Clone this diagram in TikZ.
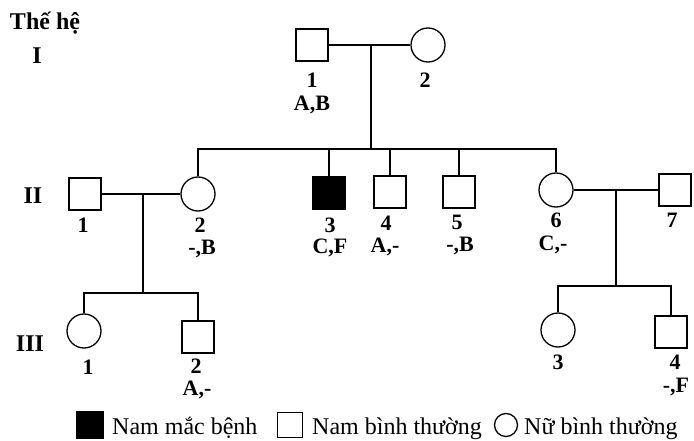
\documentclass[tikz,border=0pt]{standalone}
\usepackage{fontspec}
\setmainfont{Liberation Serif}
\begin{document}
\begin{tikzpicture}[x=1pt,y=-1pt,
  male/.style={draw,line width=1.3pt,rectangle,minimum size=32pt,inner sep=0pt,fill=white},
  female/.style={draw,line width=1.3pt,circle,minimum size=34pt,inner sep=0pt,fill=white},
  affected/.style={male,fill=black},
  lab/.style={inner sep=0pt,font=\fontsize{22}{22}\selectfont\bfseries,text height=14.5pt,text depth=0pt},
  gen/.style={inner sep=0pt,font=\fontsize{24}{24}\selectfont\bfseries,text height=16pt,text depth=0pt},
  leg/.style={inner sep=0pt,anchor=base west,font=\fontsize{24}{24}\selectfont},
  link/.style={line width=2pt}]
\useasboundingbox (0,0) rectangle (694,441);
% generation labels
\node[gen] (the) at (45,22) {Thế hệ};
\node[gen] (g1) at (37,56) {I};
\node[gen] (g2) at (33,196) {II};
\node[gen] (g3) at (30,343) {III};
% generation I
\node[male] (I1) at (312,45) {};
\node[female] (I2) at (428,45) {};
\coordinate (m1) at (371,45);
\coordinate (s1) at (371,149);
\draw[link] (I1) -- (I2);
\draw[link] (m1) -- (s1);
\node[lab] (I1n) at (312,80) {1};
\node[lab] (I1g) at (312,103) {A,B};
\node[lab] (I2n) at (425,80) {2};
% generation II
\node[male] (II1) at (85,194) {};
\node[female] (II2) at (198,194) {};
\node[affected] (II3) at (329,193) {};
\node[male] (II4) at (390,192) {};
\node[male] (II5) at (459,192) {};
\node[female] (II6) at (556,190) {};
\node[male] (II7) at (675,190) {};
\draw[link] (II2.north) |- (s1) -| (II6.north);
\draw[link] (II3.north) -- (II3.north |- s1);
\draw[link] (II4.north) -- (II4.north |- s1);
\draw[link] (II5.north) -- (II5.north |- s1);
\draw[link] (II1) -- (II2);
\draw[link] (II6) -- (II7);
\coordinate (m2) at (143,194);
\coordinate (s2) at (143,293);
\coordinate (m3) at (616,190);
\coordinate (s3) at (616,286);
\draw[link] (m2) -- (s2);
\draw[link] (m3) -- (s3);
\node[lab] (II1n) at (83,225) {1};
\node[lab] (II2n) at (200,225) {2};
\node[lab] (II2g) at (202,247) {-,B};
\node[lab] (II3n) at (330,225) {3};
\node[lab] (II3g) at (330,246) {C,F};
\node[lab] (II4n) at (386,223) {4};
\node[lab] (II4g) at (385,245) {A,-};
\node[lab] (II5n) at (457,222) {5};
\node[lab] (II5g) at (460,244) {-,B};
\node[lab] (II6n) at (556,220) {6};
\node[lab] (II6g) at (553,243) {C,-};
\node[lab] (II7n) at (672,220) {7};
% generation III
\node[female] (III1) at (84,331) {};
\node[male] (III2) at (198,337) {};
\node[female] (III3) at (558,330) {};
\node[male] (III4) at (671,332) {};
\draw[link] (III1.north) |- (s2) -| (III2.north);
\draw[link] (III3.north) |- (s3) -| (III4.north);
\node[lab] (III1n) at (88,367) {1};
\node[lab] (III2n) at (196,366) {2};
\node[lab] (III2g) at (197,388) {A,-};
\node[lab] (III3n) at (558,362) {3};
\node[lab] (III4n) at (675,362) {4};
\node[lab] (III4g) at (676,385) {-,F};
% legend
\node[affected,minimum size=26pt] (k1) at (90,425) {};
\node[leg] (k1t) at (112,434) {Nam mắc bệnh};
\node[male,minimum size=25pt] (k2) at (290,425) {};
\node[leg] (k2t) at (312,434) {Nam bình thường};
\node[female,minimum size=23pt] (k3) at (506,425) {};
\node[leg] (k3t) at (524,434) {Nữ bình thường};
\end{tikzpicture}
\end{document}
